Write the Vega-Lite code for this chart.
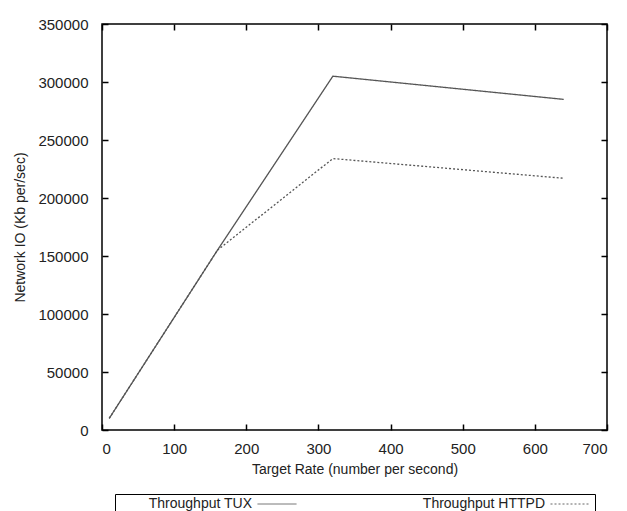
{
  "$schema": "https://vega.github.io/schema/vega-lite/v6.json",
  "width": 505,
  "height": 406,
  "autosize": {"type": "none"},
  "padding": {"left": 102, "top": 24, "right": 20, "bottom": 81},
  "background": "white",
  "title": {"text": "(a)", "fontSize": 14, "fontWeight": "normal", "font": "Liberation Sans", "color": "#222", "offset": 23, "anchor": "middle", "dx": -48},
  "config": {
    "font": "Liberation Sans",
    "view": {"stroke": "#000", "strokeWidth": 1.5},
    "axis": {
      "grid": false,
      "domain": false,
      "tickColor": "#000",
      "tickSize": -6,
      "tickWidth": 1.5,
      "labelFont": "Liberation Sans",
      "labelFontSize": 15,
      "labelColor": "#222",
      "titleFont": "Liberation Sans",
      "titleFontSize": 14,
      "titleFontWeight": "normal",
      "titleColor": "#222"
    },
    "legend": {
      "orient": "none",
      "legendX": 13,
      "legendY": 470,
      "direction": "horizontal",
      "strokeColor": "#000",
      "padding": 3,
      "labelFont": "Liberation Sans",
      "labelFontSize": 14,
      "labelColor": "#222",
      "labelAlign": "right",
      "labelOffset": -32,
      "symbolType": "M-3,0H3",
      "symbolSize": 169,
      "symbolStrokeWidth": 1,
      "symbolStrokeColor": "#666",
      "symbolFillColor": "transparent",
      "columnPadding": 123,
      "titleOrient": "left",
      "titleColor": "transparent",
      "titleFontSize": 14,
      "titlePadding": 148
    }
  },
  "data": {
    "values": [
      {"rate": 10, "kb": 10000, "series": "Throughput TUX"},
      {"rate": 160, "kb": 155000, "series": "Throughput TUX"},
      {"rate": 320, "kb": 305000, "series": "Throughput TUX"},
      {"rate": 640, "kb": 285000, "series": "Throughput TUX"},
      {"rate": 10, "kb": 10000, "series": "Throughput HTTPD"},
      {"rate": 160, "kb": 155000, "series": "Throughput HTTPD"},
      {"rate": 320, "kb": 234000, "series": "Throughput HTTPD"},
      {"rate": 640, "kb": 217000, "series": "Throughput HTTPD"}
    ]
  },
  "layer": [
    {
      "mark": {"type": "line", "color": "#555", "strokeWidth": 1.3},
      "encoding": {
        "x": {
          "field": "rate", "type": "quantitative",
          "scale": {"domain": [0, 700], "nice": false},
          "axis": {"values": [0, 100, 200, 300, 400, 500, 600, 700], "title": "Target Rate (number per second)", "labelPadding": 17, "titlePadding": 6}
        },
        "y": {
          "field": "kb", "type": "quantitative",
          "scale": {"domain": [0, 350000], "nice": false},
          "axis": {"values": [0, 50000, 100000, 150000, 200000, 250000, 300000, 350000], "format": "d", "title": "Network IO (Kb per/sec)", "labelPadding": 20, "titlePadding": 10}
        },
        "strokeDash": {
          "field": "series", "type": "nominal",
          "scale": {"domain": ["Throughput TUX", "Throughput HTTPD"], "range": [[1, 0], [2, 2]]},
          "legend": {"title": "."}
        }
      }
    },
    {
      "mark": {"type": "line", "opacity": 0},
      "encoding": {
        "x": {"field": "rate", "type": "quantitative", "axis": {"orient": "top", "values": [0, 100, 200, 300, 400, 500, 600, 700], "labels": false, "title": null}},
        "y": {"field": "kb", "type": "quantitative", "axis": {"orient": "right", "values": [0, 50000, 100000, 150000, 200000, 250000, 300000, 350000], "labels": false, "title": null}}
      }
    }
  ],
  "resolve": {"axis": {"x": "independent", "y": "independent"}}
}
